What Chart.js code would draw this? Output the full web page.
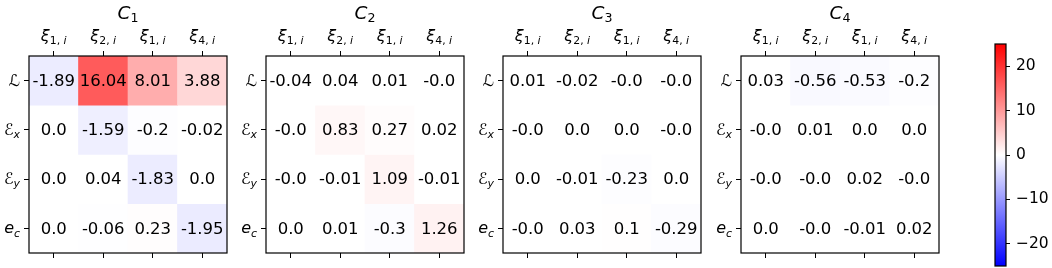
<!DOCTYPE html>
<html>
<head>
<meta charset="utf-8">
<script src="https://cdn.jsdelivr.net/npm/chart.js@4/dist/chart.umd.min.js"></script>
<style>
	html, body { margin: 0; padding: 0; background: #fff; overflow: hidden; width: 1052px; height: 268px; }
	canvas { position: absolute; left: 0; top: 0; }
</style>
</head>
<body>
<canvas id="p1" width="1052" height="268"></canvas>
<canvas id="p2" width="1052" height="268"></canvas>
<canvas id="p3" width="1052" height="268"></canvas>
<canvas id="p4" width="1052" height="268"></canvas>
<canvas id="cbar" width="1052" height="290"></canvas>
<script>
// tick labels (mathtext-like: base_{sub})
const colLabels = ["ξ_{1, i}", "ξ_{2, i}", "ξ_{1, i}", "ξ_{4, i}"];
const rowLabels = ["ℒ", "ℰ_{x}", "ℰ_{y}", "e_{c}"];
const titles = ["C_{1}", "C_{2}", "C_{3}", "C_{4}"];

// one row per rowLabel, one column per colLabel
const c1 = [
	[-1.89, 16.04, 8.01, 3.88],
	[0.0, -1.59, -0.2, -0.02],
	[0.0, 0.04, -1.83, 0.0],
	[0.0, -0.06, 0.23, -1.95]
];
const c2 = [
	[-0.04, 0.04, 0.01, -0.0],
	[-0.0, 0.83, 0.27, 0.02],
	[-0.0, -0.01, 1.09, -0.01],
	[0.0, 0.01, -0.3, 1.26]
];
const c3 = [
	[0.01, -0.02, -0.0, -0.0],
	[-0.0, 0.0, 0.0, -0.0],
	[0.0, -0.01, -0.23, 0.0],
	[-0.0, 0.03, 0.1, -0.29]
];
const c4 = [
	[0.03, -0.56, -0.53, -0.2],
	[-0.0, 0.01, 0.0, 0.0],
	[-0.0, -0.0, 0.02, -0.0],
	[0.0, -0.0, -0.01, 0.02]
];

const cbarMin = -25;
const cbarMax = 25;
const cbarTicks = [-20, -10, 0, 10, 20];

const W = 1052, H = 268;
const FONT = "'DejaVu Sans', sans-serif";

// matplotlib "bwr"
function bwr(v) {
	let t = (v - cbarMin) / (cbarMax - cbarMin);
	t = Math.max(0, Math.min(1, t));
	let r, g, b;
	if (t < 0.5) { r = g = 2 * t; b = 1; }
	else { r = 1; g = b = 2 * (1 - t); }
	return "rgb(" + Math.round(r * 255) + "," + Math.round(g * 255) + "," + Math.round(b * 255) + ")";
}

function fmt(v) {
	if (Object.is(v, -0)) return "-0.0";
	return Number.isInteger(v) ? v.toFixed(1) : String(v);
}

// draw "base_{sub}" with italic letters like mathtext
function parse(label) {
	const m = label.match(/^(.*?)(?:_\{(.*)\})?$/);
	return { base: m[1], sub: m[2] || "" };
}
function charFont(ch, size) {
	return (/[a-zA-Zα-ω]/.test(ch) ? "italic " : "") + size + "px " + FONT;
}
function runWidth(ctx, text, size) {
	let w = 0;
	for (const ch of text) { ctx.font = charFont(ch, size); w += ctx.measureText(ch).width; }
	return w;
}
function drawRun(ctx, text, x, y, size) {
	for (const ch of text) {
		ctx.font = charFont(ch, size);
		ctx.fillText(ch, x, y);
		x += ctx.measureText(ch).width;
	}
	return x;
}
function drawMath(ctx, label, x, y, size, align) {
	const { base, sub } = parse(label);
	const subSize = size * 0.68;
	const w = runWidth(ctx, base, size) + runWidth(ctx, sub, subSize);
	let sx = align === "center" ? x - w / 2 : align === "right" ? x - w : x;
	ctx.textAlign = "left";
	ctx.textBaseline = "alphabetic";
	sx = drawRun(ctx, base, sx, y, size);
	drawRun(ctx, sub, sx, y + size * 0.2, subSize);
}

function panelPlugin(title, values) {
	return {
		id: "panelText",
		afterDatasetsDraw(chart) {
			const { ctx, chartArea: a, scales } = chart;
			ctx.save();
			ctx.fillStyle = "#000";
			ctx.font = "16.5px " + FONT;
			ctx.textAlign = "center";
			ctx.textBaseline = "middle";
			values.forEach((row, r) => {
				row.forEach((v, j) => {
					ctx.fillText(fmt(v), scales.x.getPixelForValue(j), scales.y.getPixelForValue(r) + 1);
				});
			});
			ctx.strokeStyle = "#000";
			ctx.lineWidth = 1.2;
			ctx.strokeRect(a.left, a.top, a.right - a.left, a.bottom - a.top);
			ctx.restore();
		},
		afterDraw(chart) {
			const { ctx, chartArea: a, scales } = chart;
			ctx.save();
			ctx.fillStyle = "#000";
			colLabels.forEach((lab, j) => drawMath(ctx, lab, scales.x.getPixelForTick(j), a.top - 15, 16, "center"));
			rowLabels.forEach((lab, r) => drawMath(ctx, lab, a.left - 9, scales.y.getPixelForValue(r) + 5, 16, "right"));
			drawMath(ctx, title, (a.left + a.right) / 2, 18.5, 18.5, "center");
			ctx.restore();
		}
	};
}

const tickAxis = {
	grid: { display: true, offset: false, drawOnChartArea: false, drawTicks: true, tickLength: 5, color: "#000", lineWidth: 1 },
	border: { display: false },
	ticks: { display: false }
};

function panel(id, title, values, left) {
	const right = left + 198, top = 56, bottom = 253, tick = 5;
	new Chart(document.getElementById(id), {
		type: "bar",
		data: {
			labels: colLabels,
			datasets: values.map((row, r) => ({
				data: row.map(() => [r - 0.5, r + 0.5]),
				backgroundColor: row.map(bwr),
				borderWidth: 0,
				grouped: false,
				barPercentage: 1,
				categoryPercentage: 1
			}))
		},
		options: {
			responsive: false,
			animation: false,
			events: [],
			layout: { padding: { left: left - tick, right: W - right, top: top - tick, bottom: H - bottom - tick } },
			plugins: { legend: { display: false }, tooltip: { enabled: false } },
			scales: {
				x: Object.assign({ type: "category", position: "top", offset: true }, tickAxis),
				xb: Object.assign({ type: "category", position: "bottom", offset: true }, tickAxis),
				y: Object.assign({
					type: "linear", min: -0.5, max: 3.5, reverse: true,
					afterBuildTicks: axis => { axis.ticks = rowLabels.map((_, i) => ({ value: i })); }
				}, tickAxis)
			}
		},
		plugins: [panelPlugin(title, values)]
	});
}

panel("p1", titles[0], c1, 29);
panel("p2", titles[1], c2, 266);
panel("p3", titles[2], c3, 503);
panel("p4", titles[3], c4, 741);

// colorbar
new Chart(document.getElementById("cbar"), {
	type: "bar",
	data: {
		labels: [""],
		datasets: [{
			data: [[cbarMin, cbarMax]],
			backgroundColor: c => {
				const a = c.chart.chartArea;
				if (!a) return "#fff";
				const g = c.chart.ctx.createLinearGradient(0, a.bottom, 0, a.top);
				g.addColorStop(0, "rgb(0,0,255)");
				g.addColorStop(0.5, "rgb(255,255,255)");
				g.addColorStop(1, "rgb(255,0,0)");
				return g;
			},
			borderWidth: 0,
			barPercentage: 1,
			categoryPercentage: 1
		}]
	},
	options: {
		responsive: false,
		animation: false,
		events: [],
		layout: { padding: { left: 995, right: 0, top: 44, bottom: 290 - 266 } },
		plugins: { legend: { display: false }, tooltip: { enabled: false } },
		scales: {
			x: { display: false },
			y: {
				position: "right",
				min: cbarMin,
				max: cbarMax,
				afterBuildTicks: axis => { axis.ticks = cbarTicks.map(v => ({ value: v })); },
				afterFit: axis => { axis.width = 46; },
				grid: { display: true, drawOnChartArea: false, tickLength: 4, color: "#000" },
				border: { display: false },
				ticks: {
					padding: 6,
					color: "#000",
					font: { family: "DejaVu Sans", size: 15.5 },
					callback: v => String(v).replace("-", "\u2212")
				}
			}
		}
	},
	plugins: [{
		id: "cbarFrame",
		afterDatasetsDraw(chart) {
			const { ctx, chartArea: a } = chart;
			ctx.save();
			ctx.strokeStyle = "#000";
			ctx.lineWidth = 1.2;
			ctx.strokeRect(a.left, a.top, a.right - a.left, a.bottom - a.top);
			ctx.restore();
		}
	}]
});
</script>
</body>
</html>
